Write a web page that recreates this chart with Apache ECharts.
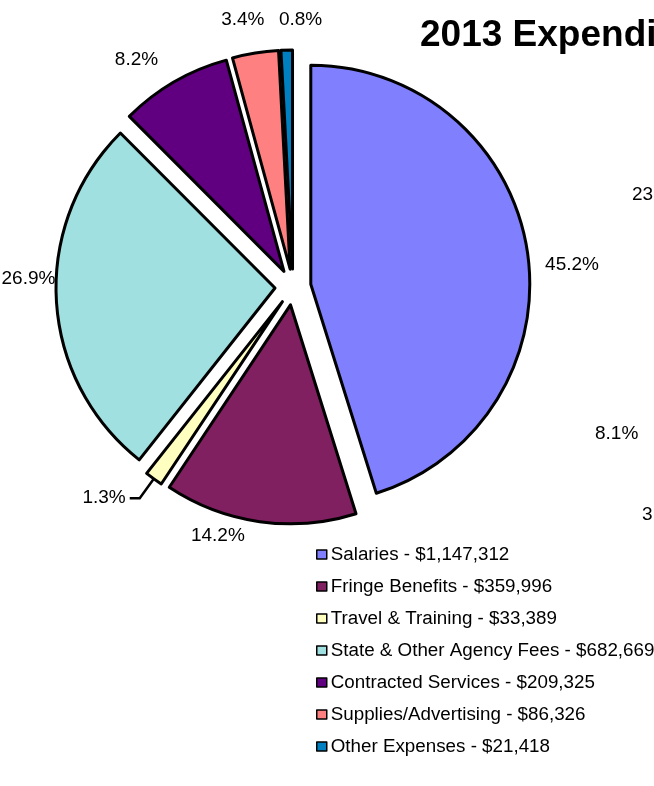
<!DOCTYPE html>
<html>
<head>
<meta charset="utf-8">
<script src="https://cdn.jsdelivr.net/npm/echarts@6/dist/echarts.min.js"></script>
<style>
  html, body { margin: 0; padding: 0; background: #fff; }
  #chart { width: 654px; height: 786px; }
</style>
</head>
<body>
<div id="chart"></div>
<script>
var categories = ['Salaries', 'Fringe Benefits', 'Travel & Training', 'State & Other Agency Fees',
                  'Contracted Services', 'Supplies/Advertising', 'Other Expenses'];
var amounts = [1147312, 359996, 33389, 682669, 209325, 86326, 21418];
var sliceColors = ['#8080ff', '#802060', '#ffffc0', '#a0e0e0', '#600080', '#ff8080', '#0080c0'];

// bits of the neighbouring chart that spill into this crop
var strayTexts = ['23', '8.1%', '3'];

var FONT = '"Liberation Sans", Arial, sans-serif';

var myChart = echarts.init(document.getElementById('chart'), null, {renderer: 'canvas'});

// label line tweaks per slice (only travel has a visible leader)
var lineLen = [14, 6, 24, 0, 16, 18, 18];
var lineLen2 = [10, 6, 10, 0, 4, 0, 0];
// small nudges so the labels sit where excel put them
var labelNudge = [[-10, 16], [-4, 8], [0, 0], [3, -22], [0, -8], [16, -15], [40, -12]];

var pieData = categories.map(function(name, i){
    return {
        name: name,
        value: amounts[i],
        selected: true,
        itemStyle: {color: sliceColors[i]},
        labelLine: {show: i == 2, length: lineLen[i], length2: lineLen2[i]}
    };
});

var legend = {
    orient: 'vertical',
    left: 311,
    top: 540,
    icon: 'rect',
    itemWidth: 10,
    itemHeight: 9,
    itemGap: 13,
    selectedMode: false,
    itemStyle: {borderColor: '#000', borderWidth: 1.5},
    textStyle: {fontFamily: FONT, fontSize: 18.8, lineHeight: 19, color: '#000', padding: [0, 0, 0, -1]},
    formatter: function(name){
        var idx = categories.indexOf(name);
        return name + ' - $' + amounts[idx].toLocaleString('en-US');
    },
    data: categories
};

var series = [{
    type: 'pie',
    center: [293, 287],
    radius: 219,
    startAngle: 90,
    clockwise: true,
    selectedMode: 'multiple',
    selectedOffset: 18,
    avoidLabelOverlap: false,
    animation: false,
    emphasis: {disabled: true},
    itemStyle: {borderColor: '#000', borderWidth: 3},
    select: {itemStyle: {borderColor: '#000', borderWidth: 3}},
    label: {
        show: true,
        position: 'outside',
        fontFamily: FONT,
        fontSize: 19,
        color: '#000',
        distanceToLabelLine: 4,
        formatter: function(p){ return p.percent.toFixed(1) + '%'; }
    },
    labelLine: {lineStyle: {color: '#000', width: 2.5}, smooth: false},
    labelLayout: function(p){
        var n = labelNudge[p.dataIndex];
        if (p.dataIndex == 2) return {hideOverlap: false};
        return {dx: n[0], dy: n[1], hideOverlap: false};
    },
    data: pieData
}];

var strayPos = [[632, 195], [595, 434], [642, 515]];
var graphic = strayTexts.map(function(t, i){
    return {
        type: 'text',
        left: strayPos[i][0],
        top: strayPos[i][1] - 10,
        style: {text: t, font: '19px ' + FONT, fill: '#000'}
    };
});

var option = {
    backgroundColor: '#fff',
    title: {
        text: '2013 Expenditures',
        left: 415,
        top: 12,
        textStyle: {fontFamily: FONT, fontSize: 37, fontWeight: 'bold', color: '#000'}
    },
    legend: legend,
    series: series,
    graphic: graphic
};

myChart.setOption(option);
</script>
</body>
</html>
